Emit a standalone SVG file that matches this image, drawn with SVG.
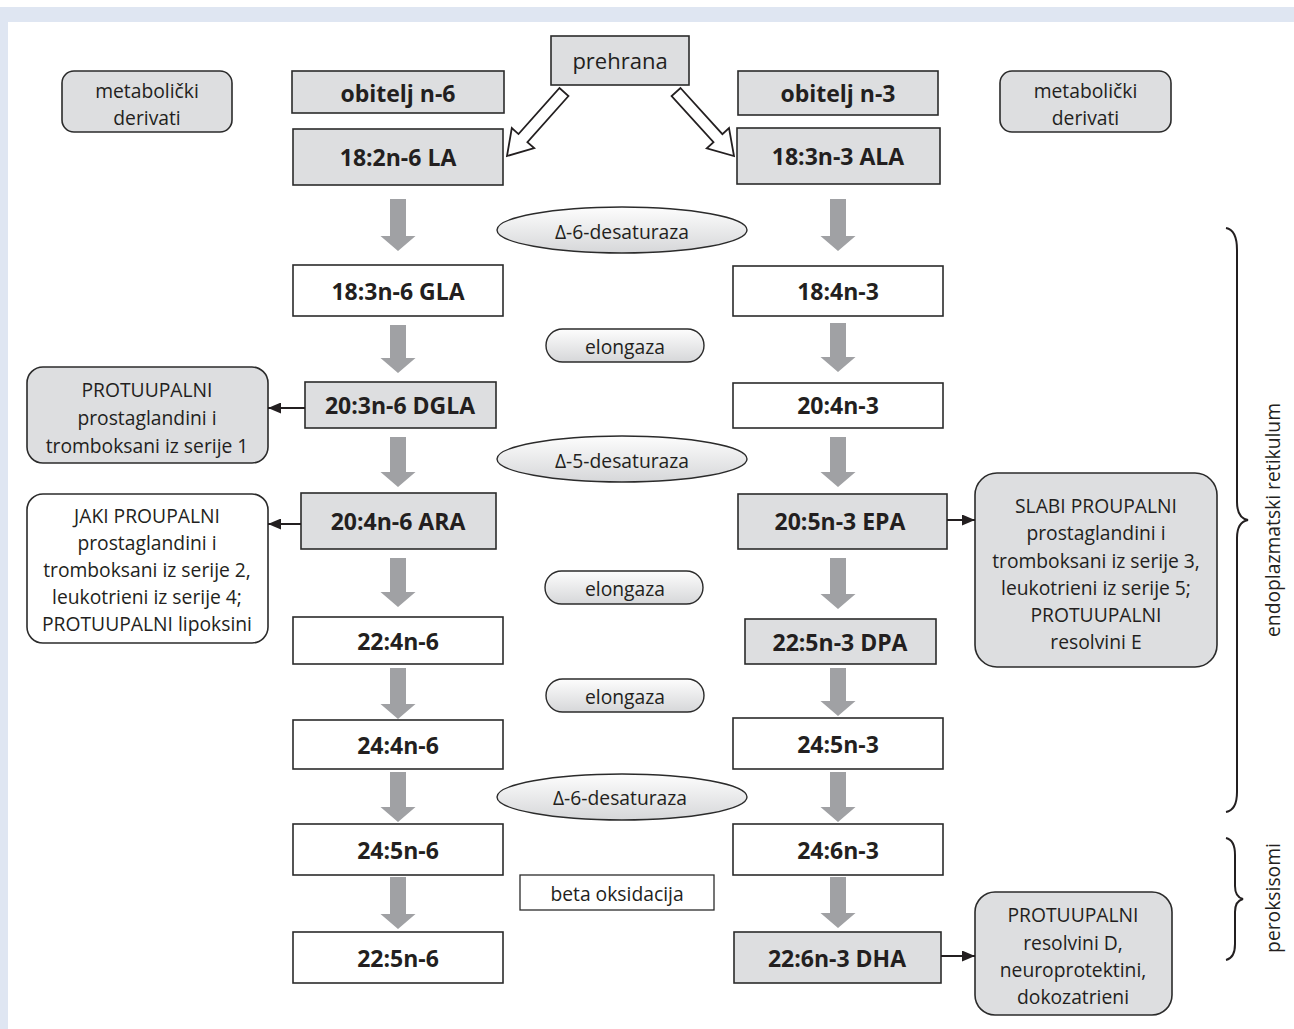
<svg xmlns="http://www.w3.org/2000/svg" width="1294" height="1029" viewBox="0 0 1294 1029">
<defs>
<style>
text{font-family:"Open Sans","Liberation Sans",sans-serif;fill:#231f20;text-anchor:middle;dominant-baseline:central}
.b{font-weight:bold;font-size:23px}
.r{font-size:19.3px}
.g{fill:#dddee0;stroke:#2b2b2b;stroke-width:1.6}
.w{fill:#fff;stroke:#2b2b2b;stroke-width:1.6}
.ga{fill:#a0a1a4}
.ho{fill:#fff;stroke:#231f20;stroke-width:1.8;stroke-linejoin:miter}
.con{stroke:#231f20;stroke-width:2;fill:none}
.br{stroke:#231f20;stroke-width:2;fill:none}
.en{fill:url(#eg);stroke:#2b2b2b;stroke-width:1.4}
</style>
<linearGradient id="eg" x1="0" y1="0" x2="0" y2="1">
<stop offset="0" stop-color="#fdfdfd"/>
<stop offset="1" stop-color="#d6d7d9"/>
</linearGradient>
<marker id="ah" markerUnits="userSpaceOnUse" markerWidth="13" markerHeight="11" refX="13" refY="5.5" orient="auto">
<path d="M0,0 L13,5.5 L0,11 z" fill="#231f20"/>
</marker>
</defs>
<rect x="0" y="0" width="1294" height="1029" fill="#fff"/>
<rect x="0" y="7" width="1294" height="15" fill="#dfe6f2"/>
<rect x="0" y="7" width="8" height="1022" fill="#dfe6f2"/>

<g id="prehrana"><rect class="g" x="551" y="36" width="138" height="49"/><text class="r" x="620" y="60" style="font-size:22px">prehrana</text></g>

<g id="met-left"><rect class="g" x="62" y="71" width="170" height="61" rx="12"/><text class="r" x="147" y="90">metabolički</text><text class="r" x="147" y="117">derivati</text></g>
<g id="met-right"><rect class="g" x="1000" y="71" width="171" height="61" rx="12"/><text class="r" x="1085.5" y="90">metabolički</text><text class="r" x="1085.5" y="117">derivati</text></g>

<g id="n6-head"><rect class="g" x="292" y="71" width="212" height="42"/><text class="b" x="398" y="93">obitelj n-6</text></g>
<g id="la"><rect class="g" x="293" y="129" width="210" height="56"/><text class="b" x="398" y="157">18:2n-6 LA</text></g>
<g id="gla"><rect class="w" x="293" y="265" width="210" height="51"/><text class="b" x="398" y="291">18:3n-6 GLA</text></g>
<g id="dgla"><rect class="g" x="305" y="382" width="191" height="46"/><text class="b" x="400" y="405">20:3n-6 DGLA</text></g>
<g id="ara"><rect class="g" x="301" y="493" width="195" height="56"/><text class="b" x="398" y="521">20:4n-6 ARA</text></g>
<g id="n6-224"><rect class="w" x="293" y="617" width="210" height="47"/><text class="b" x="398" y="641">22:4n-6</text></g>
<g id="n6-244"><rect class="w" x="293" y="720" width="210" height="49"/><text class="b" x="398" y="745">24:4n-6</text></g>
<g id="n6-245"><rect class="w" x="293" y="824" width="210" height="51"/><text class="b" x="398" y="850">24:5n-6</text></g>
<g id="n6-225"><rect class="w" x="293" y="932" width="210" height="51"/><text class="b" x="398" y="958">22:5n-6</text></g>

<g id="n3-head"><rect class="g" x="738" y="71" width="200" height="44"/><text class="b" x="838" y="93">obitelj n-3</text></g>
<g id="ala"><rect class="g" x="737" y="128" width="203" height="56"/><text class="b" x="838" y="156">18:3n-3 ALA</text></g>
<g id="n3-184"><rect class="w" x="733" y="266" width="210" height="50"/><text class="b" x="838" y="291">18:4n-3</text></g>
<g id="n3-204"><rect class="w" x="733" y="383" width="210" height="45"/><text class="b" x="838" y="405">20:4n-3</text></g>
<g id="epa"><rect class="g" x="738" y="494" width="209" height="55"/><text class="b" x="840" y="521">20:5n-3 EPA</text></g>
<g id="dpa"><rect class="g" x="745" y="619" width="191" height="45"/><text class="b" x="840" y="642">22:5n-3 DPA</text></g>
<g id="n3-245"><rect class="w" x="733" y="718" width="210" height="51"/><text class="b" x="838" y="744">24:5n-3</text></g>
<g id="n3-246"><rect class="w" x="733" y="824" width="210" height="51"/><text class="b" x="838" y="850">24:6n-3</text></g>
<g id="dha"><rect class="g" x="734" y="932" width="207" height="51"/><text class="b" x="837" y="958">22:6n-3 DHA</text></g>

<g id="enz-d6a"><ellipse class="en" cx="622" cy="230" rx="125" ry="23"/><text class="r" x="622" y="231">Δ-6-desaturaza</text></g>
<g id="enz-el1"><rect class="en" x="546" y="329" width="158" height="33" rx="16.5"/><text class="r" x="625" y="346">elongaza</text></g>
<g id="enz-d5"><ellipse class="en" cx="622" cy="459" rx="125" ry="23"/><text class="r" x="622" y="460">Δ-5-desaturaza</text></g>
<g id="enz-el2"><rect class="en" x="545" y="571" width="158" height="33" rx="16.5"/><text class="r" x="625" y="588">elongaza</text></g>
<g id="enz-el3"><rect class="en" x="546" y="679" width="158" height="33" rx="16.5"/><text class="r" x="625" y="696">elongaza</text></g>
<g id="enz-d6b"><ellipse class="en" cx="622" cy="797" rx="125" ry="23"/><text class="r" x="620" y="797">Δ-6-desaturaza</text></g>
<g id="enz-beta"><rect class="w" x="520" y="875" width="194" height="35" style="stroke-width:1.3"/><text class="r" x="617" y="893">beta oksidacija</text></g>

<g id="der-dgla"><rect class="g" x="27" y="367" width="241" height="96" rx="16"/><text class="r" x="147" y="389">PROTUUPALNI</text><text class="r" x="147" y="417">prostaglandini i</text><text class="r" x="147" y="445">tromboksani iz serije 1</text></g>
<g id="der-ara"><rect class="w" x="27" y="494" width="241" height="149" rx="16"/><text class="r" x="147" y="515">JAKI PROUPALNI</text><text class="r" x="147" y="542">prostaglandini i</text><text class="r" x="147" y="569">tromboksani iz serije 2,</text><text class="r" x="147" y="596">leukotrieni iz serije 4;</text><text class="r" x="147" y="623">PROTUUPALNI lipoksini</text></g>
<g id="der-epa"><rect class="g" x="975" y="473" width="242" height="194" rx="22"/><text class="r" x="1096" y="505">SLABI PROUPALNI</text><text class="r" x="1096" y="532">prostaglandini i</text><text class="r" x="1096" y="560">tromboksani iz serije 3,</text><text class="r" x="1096" y="587">leukotrieni iz serije 5;</text><text class="r" x="1096" y="614">PROTUUPALNI</text><text class="r" x="1096" y="641">resolvini E</text></g>
<g id="der-dha"><rect class="g" x="975" y="892" width="197" height="123" rx="20"/><text class="r" x="1073" y="914">PROTUUPALNI</text><text class="r" x="1073" y="942">resolvini D,</text><text class="r" x="1073" y="969">neuroprotektini,</text><text class="r" x="1073" y="996">dokozatrieni</text></g>

<g id="labels">
<path class="br" d="M1226 228 Q1237 230 1237 250 L1237 502 Q1237 518 1248 520 Q1237 522 1237 538 L1237 792 Q1237 810 1226 812"/>
<path class="br" d="M1226 838 Q1235 840 1235 855 L1235 886 Q1235 897 1243 899 Q1235 901 1235 912 L1235 944 Q1235 958 1226 960"/>
<text class="r" transform="translate(1272,520) rotate(-90)">endoplazmatski retikulum</text>
<text class="r" transform="translate(1272,898) rotate(-90)">peroksisomi</text>
</g>

<g id="connectors">
<polygon class="ho" points="568.5,96 527.4,142.1 534.2,148.1 507,156 511.8,128.1 518.5,134.1 559.5,88"/>
<polygon class="ho" points="680.5,88 722.4,134.2 729,128.1 734,156 706.8,148.3 713.5,142.2 671.6,96"/>

<polygon class="ga" points="390,199 406,199 406,236 415.5,236 398,251 380.5,236 390,236"/>
<polygon class="ga" points="390,325 406,325 406,358 415.5,358 398,373 380.5,358 390,358"/>
<polygon class="ga" points="390,437 406,437 406,472 415.5,472 398,487 380.5,472 390,472"/>
<polygon class="ga" points="390,558 406,558 406,592 415.5,592 398,607 380.5,592 390,592"/>
<polygon class="ga" points="390,668 406,668 406,704 415.5,704 398,719 380.5,704 390,704"/>
<polygon class="ga" points="390,772 406,772 406,807 415.5,807 398,822 380.5,807 390,807"/>
<polygon class="ga" points="390,877 406,877 406,914 415.5,914 398,929 380.5,914 390,914"/>

<polygon class="ga" points="830,199 846,199 846,236 855.5,236 838,251 820.5,236 830,236"/>
<polygon class="ga" points="830,323 846,323 846,357 855.5,357 838,372 820.5,357 830,357"/>
<polygon class="ga" points="830,437 846,437 846,472 855.5,472 838,487 820.5,472 830,472"/>
<polygon class="ga" points="830,558 846,558 846,594 855.5,594 838,609 820.5,594 830,594"/>
<polygon class="ga" points="830,668 846,668 846,701 855.5,701 838,716 820.5,701 830,701"/>
<polygon class="ga" points="830,772 846,772 846,807 855.5,807 838,822 820.5,807 830,807"/>
<polygon class="ga" points="830,877 846,877 846,913 855.5,913 838,928 820.5,913 830,913"/>

<line class="con" x1="305" y1="408" x2="268" y2="408" marker-end="url(#ah)"/>
<line class="con" x1="301" y1="524" x2="268" y2="524" marker-end="url(#ah)"/>
<line class="con" x1="947" y1="520" x2="975" y2="520" marker-end="url(#ah)"/>
<line class="con" x1="941" y1="956" x2="975" y2="956" marker-end="url(#ah)"/>
</g>
</svg>
